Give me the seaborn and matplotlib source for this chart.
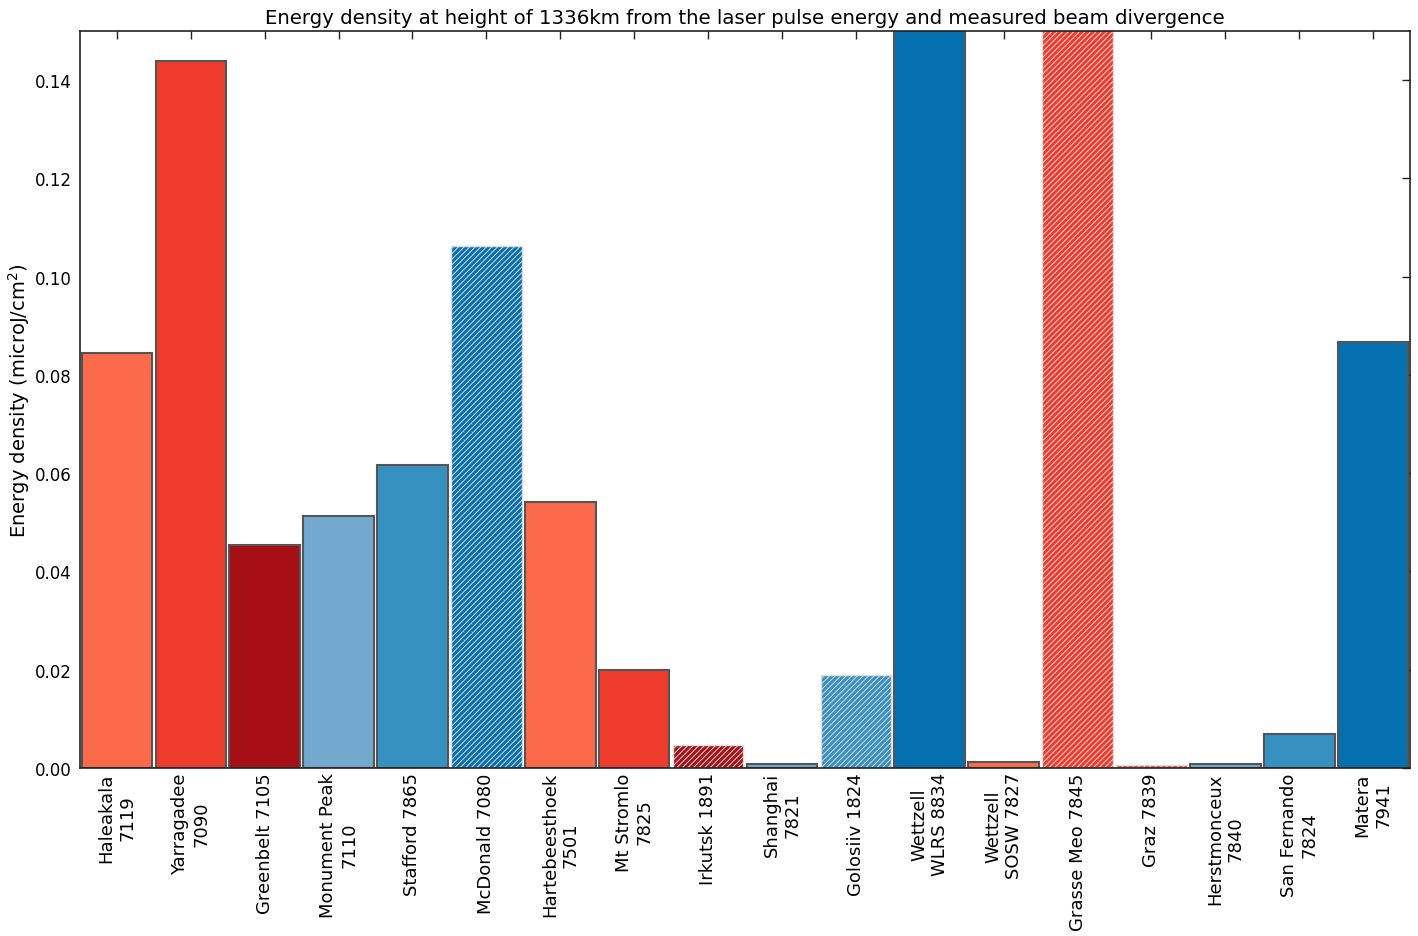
import matplotlib
matplotlib.use("Agg")
import matplotlib.pyplot as plt
import seaborn as sns
import pandas as pd

# Station names (tick labels) and energy density in microJ/cm^2
stations = [
    "Haleakala\n7119", "Yarragadee\n7090", "Greenbelt 7105", "Monument Peak\n7110",
    "Stafford 7865", "McDonald 7080", "Hartebeesthoek\n7501", "Mt Stromlo\n7825",
    "Irkutsk 1891", "Shanghai\n7821", "Golosiiv 1824", "Wettzell\nWLRS 8834",
    "Wettzell\nSOSW 7827", "Grasse Meo 7845", "Graz 7839", "Herstmonceux\n7840",
    "San Fernando\n7824", "Matera\n7941",
]
energy = [
    0.0844, 0.1439, 0.0454, 0.0513,
    0.0617, 0.1062, 0.0541, 0.0199,
    0.0047, 0.0008, 0.0189, 0.31,
    0.0012, 0.27, 0.0006, 0.0009,
    0.0069, 0.0867,
]
bar_colors = [
    "#fb6a4a", "#ef3b2c", "#a50f15", "#74a9cf",
    "#3690c0", "#0570b0", "#fb6a4a", "#ef3b2c",
    "#a50f15", "#74a9cf", "#3690c0", "#0570b0",
    "#fb6a4a", "#ef3b2c", "#ef3b2c", "#74a9cf",
    "#3690c0", "#0570b0",
]
hatched = [
    False, False, False, False,
    False, True, False, False,
    True, False, True, False,
    False, True, True, False,
    False, False,
]

df = pd.DataFrame({"station": stations, "energy": energy})

sns.set_theme(style="white")
plt.rcParams["font.family"] = ["DejaVu Sans"]
plt.rcParams["text.color"] = "black"
plt.rcParams["axes.labelcolor"] = "black"
plt.rcParams["xtick.color"] = "black"
plt.rcParams["ytick.color"] = "black"
plt.rcParams["hatch.linewidth"] = 0.7

fig = plt.figure(figsize=(14.18, 9.37), dpi=100)
ax = fig.add_axes([0.0564, 0.1793, 0.938, 0.7865])

sns.barplot(
    data=df, x="station", y="energy", hue="station",
    palette=bar_colors, legend=False, saturation=1, width=0.955,
    ax=ax,
)

for patch, h in zip(ax.patches, hatched):
    if h:
        patch.set_hatch("//////")
        patch.set_edgecolor("#dcdcdc")
        patch.set_linewidth(1.0)
    else:
        patch.set_edgecolor("#555555")
        patch.set_linewidth(1.5)

ax.set_xlim(-0.5, len(stations) - 0.5)
ax.set_ylim(0, 0.15)
ax.set_yticks([0.0, 0.02, 0.04, 0.06, 0.08, 0.10, 0.12, 0.14])
ax.set_yticklabels([f"{t:.2f}" for t in ax.get_yticks()])
ax.set_xticks(range(len(stations)))
ax.set_xticklabels(stations, rotation=90, ha="center", va="top",
                   multialignment="center", fontsize=13)
ax.tick_params(axis="y", labelsize=12)
ax.tick_params(direction="in", top=True, right=True, length=6,
               width=1, color="#222222", pad=6)
ax.tick_params(axis="x", pad=3)

for spine in ax.spines.values():
    spine.set_color("#222222")
    spine.set_linewidth(1.2)

ax.set_xlabel("")
ax.set_ylabel(r"Energy density (microJ/cm$^2$)", fontsize=14, labelpad=2)
ax.set_title("Energy density at height of 1336km from the laser pulse energy "
             "and measured beam divergence", fontsize=14.2, pad=6)

fig.savefig("out.png", dpi=100, facecolor="white")
